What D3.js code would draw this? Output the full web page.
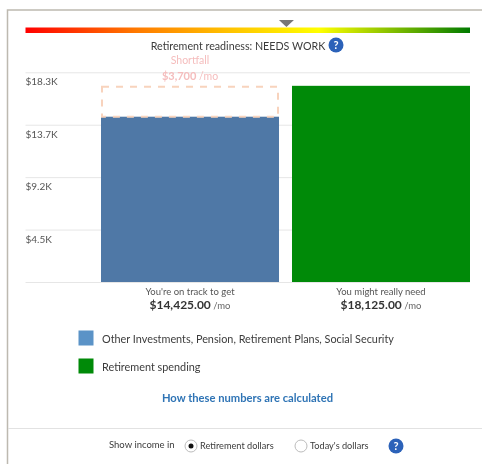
<!DOCTYPE html>
<html>
<head>
<meta charset="utf-8">
<script src="https://cdn.jsdelivr.net/npm/d3@7/dist/d3.min.js"></script>
<style>
    html, body { margin: 0; padding: 0; background: #fff; overflow: hidden; }
    svg { display: block; filter: blur(0.55px); }
    text { font-family: Lato, "Open Sans", sans-serif; fill: #3c3c3c; }
</style>
</head>
<body>
<div id="chart-div"></div>
<script>
const categories = ["You're on track to get", "You might really need"];
const amountLabels = ["$14,425.00", "$18,125.00"];
// bar tops as they sit against the axis in the picture (the green one is drawn short of its label)
const barValues = [14425, 17120];
const barColors = ["#4f78a6", "#008a08"];

const tickValues = [0, 4575, 9150, 13725, 18300];
const tickLabels = ["", "$4.5K", "$9.2K", "$13.7K", "$18.3K"];

const legendLabels = ["Other Investments, Pension, Retirement Plans, Social Security", "Retirement spending"];
const legendColors = ["#5b93c7", "#008a08"];

const shortfallLabel = "$3,700";
const readiness = 0.587;
const gradientStops = ["#ff0000", "#ff7a00", "#ffc000", "#ffff00", "#007a00"];
const gradientOffsets = [0, 0.25, 0.45, 0.66, 1];

const width = 482;
const height = 464;

const svg = d3.select("#chart-div")
    .append("svg")
    .attr("width", width)
    .attr("height", height);

const xScale = d3.scaleBand()
    .domain(categories)
    .range([101, 470])
    .paddingInner(0.068);

const yScale = d3.scaleLinear()
    .domain([0, 18300])
    .range([282, 72.3]);

const barScale = d3.scaleLinear()
    .domain([0, 1])
    .range([25.5, 470]);

function frame() {
    svg.append("path")
        .attr("d", "M" + width + ",10H7.5V" + height)
        .attr("fill", "none")
        .attr("stroke", "#bdb9b0")
        .attr("stroke-width", 1.5);

    svg.append("line")
        .attr("x1", 8).attr("x2", width)
        .attr("y1", 428.5).attr("y2", 428.5)
        .attr("stroke", "#e2e2e2");
}

function helpIcon(x, y) {
    svg.append("circle")
        .attr("cx", x).attr("cy", y).attr("r", 7.5)
        .attr("fill", "#2c62b9");
    svg.append("text")
        .text("?")
        .attr("x", x).attr("y", y + 4)
        .attr("text-anchor", "middle")
        .attr("font-size", 11)
        .attr("font-weight", "bold")
        .style("fill", "#fff");
}

function readinessBar() {
    const gradient = svg.append("defs").append("linearGradient")
        .attr("id", "readiness-gradient");

    gradient.selectAll("stop").data(gradientStops).enter().append("stop")
        .attr("offset", (d, i) => gradientOffsets[i])
        .attr("stop-color", d => d);

    svg.append("rect")
        .attr("x", barScale(0))
        .attr("width", barScale(1) - barScale(0))
        .attr("y", 27.5)
        .attr("height", 5.5)
        .attr("fill", "url(#readiness-gradient)");

    const mx = barScale(readiness);
    svg.append("path")
        .attr("d", d3.line()([[mx - 7.5, 20], [mx + 7.5, 20], [mx, 27]]) + "Z")
        .attr("fill", "#777");

    svg.append("text")
        .text("Retirement readiness: NEEDS WORK")
        .attr("x", 238).attr("y", 50)
        .attr("text-anchor", "middle")
        .attr("font-size", 10.7);

    helpIcon(336, 45);
}

function axis() {
    const g = svg.append("g")
        .attr("transform", "translate(25.5,0)")
        .call(d3.axisRight(yScale)
            .tickValues(tickValues)
            .tickSize(444.5)
            .tickFormat((d, i) => tickLabels[i]));

    g.select(".domain").remove();
    g.selectAll("line").attr("stroke", "#e6e6e6");
    g.selectAll("text")
        .attr("x", 0)
        .attr("dy", 12.5)
        .attr("text-anchor", "start")
        .attr("font-size", 10)
        .style("fill", "#555");
}

function bars() {
    svg.selectAll(".bar").data(categories).enter().append("rect")
        .classed("bar", true)
        .attr("x", d => xScale(d))
        .attr("width", xScale.bandwidth())
        .attr("y", (d, i) => yScale(barValues[i]))
        .attr("height", (d, i) => yScale(0) - yScale(barValues[i]))
        .attr("fill", (d, i) => barColors[i]);

    // dashed box on top of the first bar, up to the needed level
    svg.append("rect")
        .attr("x", xScale(categories[0]) + 1)
        .attr("width", xScale.bandwidth() - 2)
        .attr("y", yScale(barValues[1]) + 1)
        .attr("height", yScale(barValues[0]) - yScale(barValues[1]) - 1)
        .attr("fill", "none")
        .attr("stroke", "#f8d3bd")
        .attr("stroke-width", 2)
        .attr("stroke-dasharray", "7,7");

    const cx = xScale(categories[0]) + xScale.bandwidth() / 2;
    svg.append("text")
        .text("Shortfall")
        .attr("x", cx).attr("y", 64)
        .attr("text-anchor", "middle")
        .attr("font-size", 10.5)
        .style("fill", "#f5bdbd");

    const sf = svg.append("text")
        .attr("x", cx).attr("y", 80)
        .attr("text-anchor", "middle")
        .attr("font-size", 10.5)
        .style("fill", "#f5bdbd");
    sf.append("tspan").text(shortfallLabel).attr("font-weight", "bold").attr("font-size", 11);
    sf.append("tspan").text(" /mo");

    svg.selectAll(".cat").data(categories).enter().append("text")
        .classed("cat", true)
        .text(d => d)
        .attr("x", d => xScale(d) + xScale.bandwidth() / 2)
        .attr("y", 295)
        .attr("text-anchor", "middle")
        .attr("font-size", 9.5)
        .style("fill", "#555");

    const amounts = svg.selectAll(".amount").data(categories).enter().append("text")
        .classed("amount", true)
        .attr("x", d => xScale(d) + xScale.bandwidth() / 2)
        .attr("y", 309)
        .attr("text-anchor", "middle");
    amounts.append("tspan")
        .text((d, i) => amountLabels[i])
        .attr("font-size", 12)
        .attr("font-weight", "bold")
        .style("fill", "#333");
    amounts.append("tspan")
        .text(" /mo")
        .attr("font-size", 9.5)
        .style("fill", "#666");
}

function legend() {
    const legendY = d3.scalePoint()
        .domain(legendLabels)
        .range([330.5, 358.5]);

    svg.selectAll(".swatch").data(legendLabels).enter().append("rect")
        .classed("swatch", true)
        .attr("x", 78.5)
        .attr("y", d => legendY(d))
        .attr("width", 15)
        .attr("height", 15)
        .attr("fill", (d, i) => legendColors[i]);

    svg.selectAll(".legend-text").data(legendLabels).enter().append("text")
        .classed("legend-text", true)
        .text(d => d)
        .attr("x", 102)
        .attr("y", d => legendY(d) + 12)
        .attr("font-size", 10.85);

    svg.append("text")
        .text("How these numbers are calculated")
        .attr("x", 247.5).attr("y", 402)
        .attr("text-anchor", "middle")
        .attr("font-size", 11.2)
        .attr("font-weight", "bold")
        .style("fill", "#2f74b5");
}

function incomeToggle() {
    svg.append("text")
        .text("Show income in")
        .attr("x", 109).attr("y", 448)
        .attr("font-size", 9.5);

    svg.append("circle")
        .attr("cx", 191).attr("cy", 446).attr("r", 6)
        .attr("fill", "#fff").attr("stroke", "#bbb");
    svg.append("circle")
        .attr("cx", 191).attr("cy", 446).attr("r", 2.5)
        .attr("fill", "#111");
    svg.append("text")
        .text("Retirement dollars")
        .attr("x", 200).attr("y", 449)
        .attr("font-size", 9.2);

    svg.append("circle")
        .attr("cx", 301).attr("cy", 446).attr("r", 6)
        .attr("fill", "#fff").attr("stroke", "#bbb");
    svg.append("text")
        .text("Today's dollars")
        .attr("x", 310).attr("y", 449)
        .attr("font-size", 9.2);

    helpIcon(396, 446);
}

frame();
readinessBar();
axis();
bars();
legend();
incomeToggle();
</script>
</body>
</html>
